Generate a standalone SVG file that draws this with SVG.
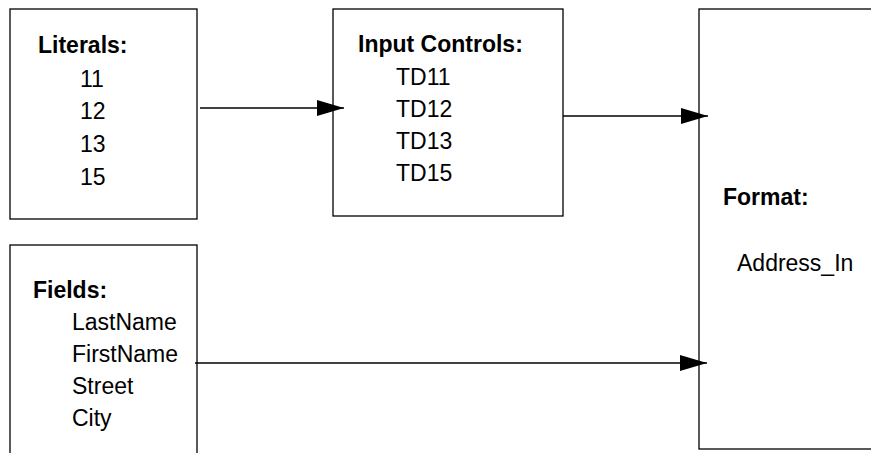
<svg xmlns="http://www.w3.org/2000/svg" width="871" height="453" viewBox="0 0 871 453">
<defs>
<style>
.box{fill:#fff;stroke:#000;stroke-width:1.3}
.t{font-family:"Liberation Sans",Arial,sans-serif;font-size:23px;fill:#000}
.b{font-weight:bold}
.c{stroke:#000;stroke-width:1.3;fill:none}
</style>
<marker id="ah" markerUnits="userSpaceOnUse" markerWidth="28" markerHeight="16" refX="27" refY="8" orient="auto">
<path d="M0,0 L27,8 L0,16 Z" fill="#000"/>
</marker>
</defs>
<rect width="871" height="453" fill="#fff"/>
<g id="literals">
<rect class="box" x="10" y="9" width="187" height="210"/>
<text class="t b" x="38" y="53">Literals:</text>
<text class="t" x="80" y="87">11</text>
<text class="t" x="80" y="119">12</text>
<text class="t" x="80" y="152">13</text>
<text class="t" x="80" y="185">15</text>
</g>
<g id="input-controls">
<rect class="box" x="333" y="9" width="230" height="207"/>
<text class="t b" x="358" y="52">Input Controls:</text>
<text class="t" x="396" y="85">TD11</text>
<text class="t" x="396" y="117">TD12</text>
<text class="t" x="396" y="149">TD13</text>
<text class="t" x="396" y="181">TD15</text>
</g>
<g id="format">
<rect class="box" x="699" y="9" width="200" height="440"/>
<text class="t b" x="723" y="205">Format:</text>
<text class="t" x="737" y="271">Address_In</text>
</g>
<g id="fields">
<rect class="box" x="10" y="245" width="187" height="230"/>
<text class="t b" x="33" y="298">Fields:</text>
<text class="t" x="72" y="330">LastName</text>
<text class="t" x="72" y="362">FirstName</text>
<text class="t" x="72" y="394">Street</text>
<text class="t" x="72" y="426">City</text>
</g>
<g id="connectors">
<line class="c" x1="200" y1="108" x2="344" y2="108" marker-end="url(#ah)"/>
<line class="c" x1="563" y1="116" x2="708" y2="116" marker-end="url(#ah)"/>
<line class="c" x1="195" y1="363" x2="707" y2="363" marker-end="url(#ah)"/>
</g>
</svg>
